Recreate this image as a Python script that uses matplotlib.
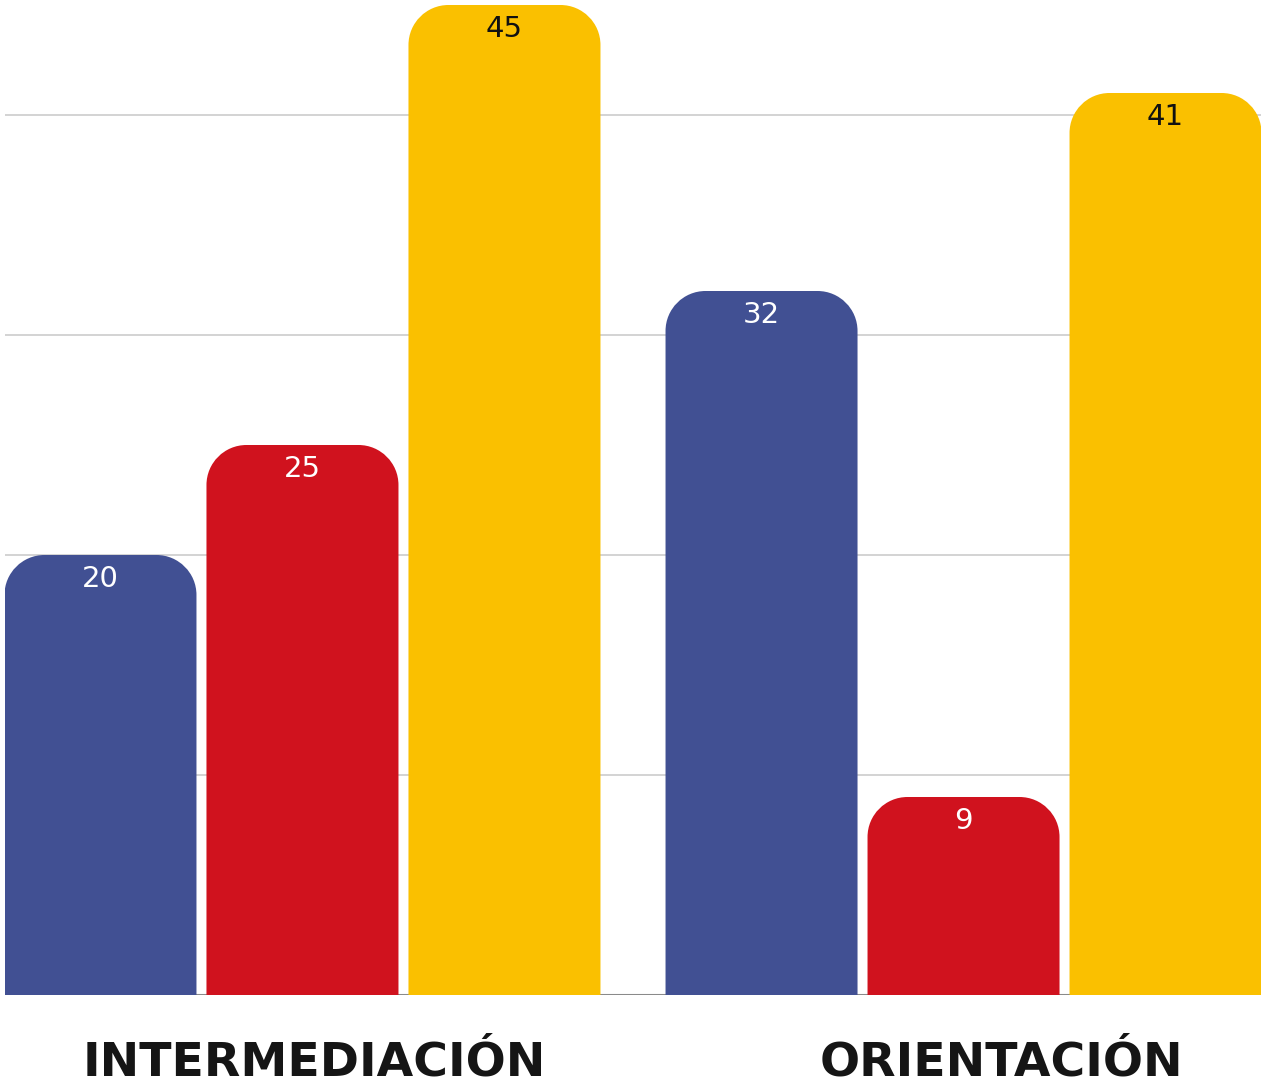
import matplotlib
matplotlib.use("Agg")
import matplotlib.pyplot as plt
from matplotlib.path import Path
from matplotlib.patches import PathPatch
import matplotlib.transforms as mtransforms
import numpy as np

categories = ["INTERMEDIACIÓN", "ORIENTACIÓN"]
series_names = ["A", "B", "C"]
values = [
    [20, 32],   # blue
    [25, 9],    # red
    [45, 41],   # yellow
]
colors = ["#415093", "#D0121E", "#FAC000"]
label_colors = ["white", "white", "#111111"]

W, H = 1262, 1088
fig = plt.figure(figsize=(W / 100, H / 100), dpi=100)
ax = fig.add_axes([5 / W, (H - 995) / H, 1256 / W, 990 / H])

ymax = 45
xlim = (-0.45, 1.45)
ax.set_xlim(*xlim)
ax.set_ylim(0, ymax)

px_x = (xlim[1] - xlim[0]) / 1256.0   # data units per pixel in x
px_y = ymax / 990.0                   # data units per pixel in y

bar_w = 192 * px_x
pitch = 202 * px_x
radius = 40
rx, ry = radius * px_x, radius * px_y
k = 0.5523

def rounded_bar(x0, w, h):
    x1 = x0 + w
    r_y = min(ry, h)
    verts = [
        (x0, 0), (x0, h - r_y),
        (x0, h - r_y + k * r_y), (x0 + rx - k * rx, h), (x0 + rx, h),
        (x1 - rx, h),
        (x1 - rx + k * rx, h), (x1, h - r_y + k * r_y), (x1, h - r_y),
        (x1, 0), (x0, 0),
    ]
    codes = [Path.MOVETO, Path.LINETO,
             Path.CURVE4, Path.CURVE4, Path.CURVE4,
             Path.LINETO,
             Path.CURVE4, Path.CURVE4, Path.CURVE4,
             Path.LINETO, Path.CLOSEPOLY]
    return Path(verts, codes)

for y in [10, 20, 30, 40]:
    ax.axhline(y, color="#d0d0d0", lw=1.3, zorder=0)
ax.axhline(0, color="#8a8a8a", lw=2.2, zorder=1)

centers = np.arange(len(categories))
for si, vals in enumerate(values):
    for ci, v in enumerate(vals):
        xc = centers[ci] + (si - 1) * pitch
        p = PathPatch(rounded_bar(xc - bar_w / 2, bar_w, v),
                      facecolor=colors[si], edgecolor="none", zorder=2)
        ax.add_patch(p)
        ax.annotate(str(v), (xc, v), xytext=(0, -17), textcoords="offset points",
                    ha="center", va="center", fontsize=21,
                    color=label_colors[si], family="DejaVu Sans", zorder=3)

ax.set_xticks(centers)
ax.set_xticklabels(categories, fontsize=34, fontweight="heavy", family="DejaVu Sans",
                   color="#151515")
ax.tick_params(axis="x", length=0, pad=33)
for lbl, dx in zip(ax.get_xticklabels(), [12, 38]):
    lbl.set_transform(lbl.get_transform() +
                      mtransforms.ScaledTranslation(dx / 100, 0, fig.dpi_scale_trans))
ax.set_yticks([])
for s in ax.spines.values():
    s.set_visible(False)

fig.savefig("out.png", dpi=100, facecolor="white")
